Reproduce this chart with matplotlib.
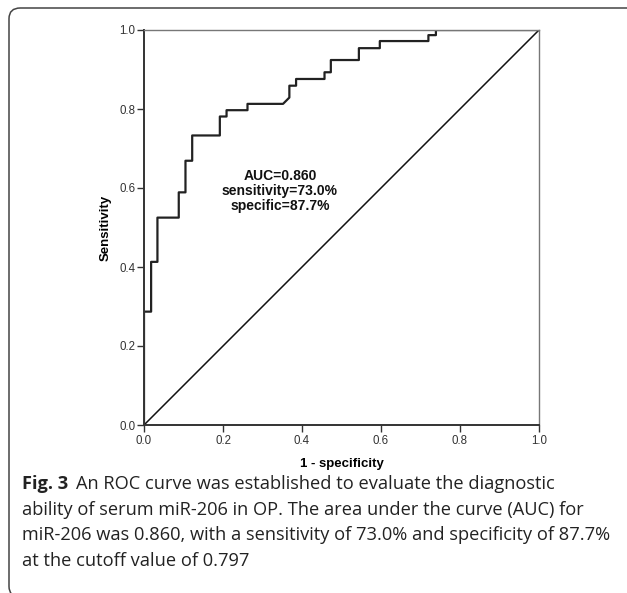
import matplotlib
matplotlib.use("Agg")
import matplotlib.pyplot as plt
from matplotlib.patches import FancyBboxPatch

# ROC step curve (1 - specificity, sensitivity)
fpr = [0.0, 0.0, 0.018, 0.018, 0.034, 0.034, 0.088, 0.088, 0.105, 0.105,
       0.122, 0.122, 0.192, 0.192, 0.209, 0.209, 0.262, 0.262, 0.352, 0.368,
       0.368, 0.385, 0.385, 0.457, 0.457, 0.473, 0.473, 0.544, 0.544, 0.597,
       0.597, 0.720, 0.720, 0.739, 0.739, 1.0]
tpr = [0.0, 0.287, 0.287, 0.413, 0.413, 0.525, 0.525, 0.589, 0.589, 0.669,
       0.669, 0.733, 0.733, 0.781, 0.781, 0.797, 0.797, 0.813, 0.813, 0.829,
       0.859, 0.859, 0.876, 0.876, 0.893, 0.893, 0.924, 0.924, 0.954, 0.954,
       0.972, 0.972, 0.987, 0.987, 1.0, 1.0]
ticks = [0.0, 0.2, 0.4, 0.6, 0.8, 1.0]
tick_labels = ["0.0", "0.2", "0.4", "0.6", "0.8", "1.0"]
stats_text = "AUC=0.860\nsensitivity=73.0%\nspecific=87.7%"
caption_head = "Fig. 3"
caption_lines = [
    "An ROC curve was established to evaluate the diagnostic",
    "ability of serum miR-206 in OP. The area under the curve (AUC) for",
    "miR-206 was 0.860, with a sensitivity of 73.0% and specificity of 87.7%",
    "at the cutoff value of 0.797",
]

W, H = 627, 593
fig = plt.figure(figsize=(W / 100, H / 100), dpi=100)
plot_font = "Liberation Sans"
cap_font = "Open Sans"

# rounded frame, right and bottom edges run off the picture
box = FancyBboxPatch((9 / W, 1 - 597 / H), 800 / W, 589 / H,
                     boxstyle="round,pad=0,rounding_size=0.018",
                     transform=fig.transFigure, fill=False,
                     edgecolor="#444444", linewidth=1.1)
fig.patches.append(box)

ax = fig.add_axes([144 / W, 1 - 425 / H, 395 / W, 395 / H])
ax.plot([0, 1], [0, 1], color="#111111", linewidth=1.1)
ax.plot(fpr, tpr, color="#222222", linewidth=1.6)
ax.set_xlim(0, 1)
ax.set_ylim(0, 1)
ax.set_xticks(ticks)
ax.set_yticks(ticks)
ax.set_xticklabels(tick_labels, fontsize=8.3, color="#333333", family=plot_font)
ax.set_yticklabels(tick_labels, fontsize=8.3, color="#333333", family=plot_font)
ax.tick_params(direction="out", length=5, width=1, color="#333333")
ax.tick_params(axis="x", pad=2)
ax.tick_params(axis="y", pad=1)
for side in ["left", "bottom"]:
    ax.spines[side].set_color("#333333")
    ax.spines[side].set_linewidth(1.4)
for side in ["top", "right"]:
    ax.spines[side].set_color("#777777")
    ax.spines[side].set_linewidth(1.0)

ax.set_xlabel("1 - specificity", fontsize=9.5, fontweight="bold", family=plot_font, labelpad=8)
ax.set_ylabel("Sensitivity", fontsize=9.5, fontweight="bold", family=plot_font, labelpad=6)

ax.text(0.344, 0.592, stats_text, ha="center", va="center", fontsize=10,
        fontweight="bold", family=plot_font, linespacing=1.1, color="#111111")

# caption, sized so the longest line spans the same width as in the picture
x0 = 22 / W
base = [489, 515, 540.5, 566]
fs = 13.5
probe = fig.text(0, 0, caption_lines[2], fontsize=fs, family=cap_font)
fig.canvas.draw()
fs = fs * 588 / probe.get_window_extent().width
probe.remove()

head = fig.text(x0, 1 - base[0] / H, caption_head, fontsize=fs, fontweight="bold",
                family=cap_font, color="#222222", va="baseline")
fig.canvas.draw()
bb = head.get_window_extent()
fig.text((bb.x1 + 8) / W, 1 - base[0] / H, caption_lines[0], fontsize=fs,
         family=cap_font, color="#222222", va="baseline")
for line, yb in zip(caption_lines[1:], base[1:]):
    fig.text(x0, 1 - yb / H, line, fontsize=fs, family=cap_font,
             color="#222222", va="baseline")

fig.savefig("out.png", dpi=100)
